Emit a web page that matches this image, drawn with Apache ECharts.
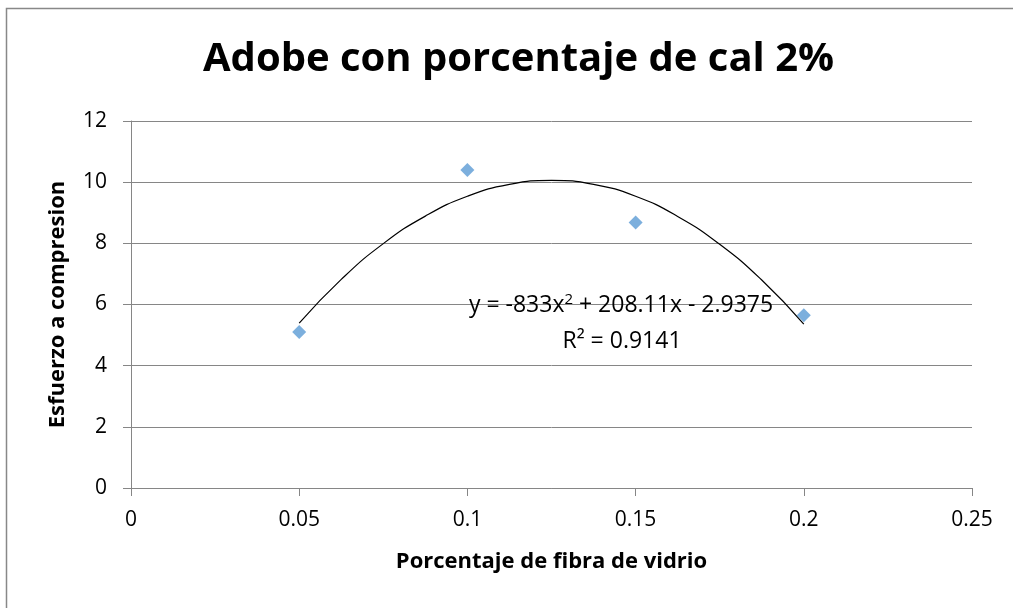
<!DOCTYPE html>
<html>
<head>
<meta charset="utf-8">
<script src="https://cdn.jsdelivr.net/npm/echarts@6/dist/echarts.min.js"></script>
<style>
html,body{margin:0;padding:0;background:#fff;}
#chart{width:1013px;height:608px;}
</style>
</head>
<body>
<div id="chart"></div>
<script>
// Measured data points
const fibra = [0.05, 0.1, 0.15, 0.2];
const esfuerzo = [5.1, 10.4, 8.68, 5.65];
// Trendline
const trendX = [0.05, 0.0625, 0.075, 0.0875, 0.1, 0.1125, 0.125, 0.1375, 0.15, 0.1625, 0.175, 0.1875, 0.2];
const trendY = [5.39, 6.82, 7.99, 8.89, 9.54, 9.93, 10.06, 9.93, 9.54, 8.88, 7.97, 6.80, 5.36];
const yTicks = [0, 2, 4, 6, 8, 10, 12];
const xTicks = [0, 0.05, 0.1, 0.15, 0.2, 0.25];

const titleText = 'Adobe con porcentaje de cal 2%';
const xName = 'Porcentaje de fibra de vidrio';
const yName = 'Esfuerzo a compresion';
const eqLine = 'y = -833x{sup|2} + 208.11x - 2.9375';
const r2Line = 'R² = 0.9141';

const font = '"Open Sans", Lato, sans-serif';
const gridColor = '#868686';

const chart = echarts.init(document.getElementById('chart'), null, {renderer: 'canvas'});
chart.setOption({
  animation: false,
  backgroundColor: '#fff',
  title: {
    text: titleText,
    left: 198,
    top: 35,
    textStyle: {fontFamily: font, fontSize: 40, fontWeight: 'bold', color: '#000'}
  },
  grid: {left: 131, right: 41, top: 121, bottom: 120},
  xAxis: {
    type: 'value',
    min: xTicks[0], max: xTicks[xTicks.length - 1], interval: 0.05,
    name: xName, nameLocation: 'middle', nameGap: 63,
    nameTextStyle: {fontFamily: font, fontSize: 22, fontWeight: 'bold', color: '#000'},
    axisLine: {show: true, lineStyle: {color: gridColor, width: 1}},
    axisTick: {show: true, length: 8, lineStyle: {color: gridColor}},
    axisLabel: {fontFamily: font, fontSize: 21, color: '#000', margin: 22},
    splitLine: {show: false}
  },
  yAxis: {
    type: 'value',
    min: yTicks[0], max: yTicks[yTicks.length - 1], interval: 2,
    name: yName, nameLocation: 'middle', nameGap: 62,
    nameTextStyle: {fontFamily: font, fontSize: 22, fontWeight: 'bold', color: '#000'},
    axisLine: {show: true, lineStyle: {color: gridColor, width: 1}},
    axisTick: {show: true, length: 8, lineStyle: {color: gridColor}},
    axisLabel: {fontFamily: font, fontSize: 21, color: '#000', margin: 24},
    splitLine: {show: true, lineStyle: {color: gridColor, width: 1}}
  },
  series: [
    {
      type: 'line',
      data: trendX.map((x, i) => [x, trendY[i]]),
      smooth: true,
      showSymbol: false,
      lineStyle: {color: '#000', width: 1.2},
      z: 3
    },
    {
      type: 'scatter',
      data: fibra.map((x, i) => [x, esfuerzo[i]]),
      symbol: 'diamond',
      symbolSize: [14, 14],
      itemStyle: {color: '#5B9BD5'},
      z: 4
    }
  ],
  graphic: [
    {
      type: 'rect',
      shape: {x: 6.5, y: 8.5, width: 1100, height: 700},
      style: {fill: 'none', stroke: '#888', lineWidth: 1.5},
      silent: true
    },
    {
      type: 'text',
      x: 621, y: 305,
      style: {
        text: eqLine,
        fontFamily: font, fontSize: 23, fill: '#000',
        align: 'center', verticalAlign: 'middle',
        rich: {sup: {fontFamily: font, fontSize: 15, verticalAlign: 'top', padding: [0, 0, 11, 0], fill: '#000'}}
      },
      z: 10
    },
    {
      type: 'text',
      x: 622, y: 341,
      style: {
        text: r2Line,
        fontFamily: font, fontSize: 23, fill: '#000',
        align: 'center', verticalAlign: 'middle'
      },
      z: 10
    }
  ]
});
</script>
</body>
</html>
